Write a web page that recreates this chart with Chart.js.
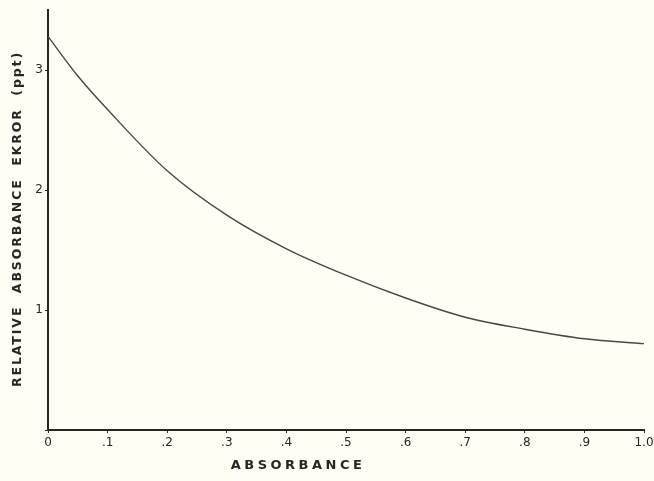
<!DOCTYPE html>
<html>
<head>
<meta charset="utf-8">
<script src="https://cdn.jsdelivr.net/npm/chart.js@4"></script>
<style>
  html, body { margin: 0; padding: 0; background: #fefef5; }
  #wrap { width: 654px; height: 481px; position: relative; }
</style>
</head>
<body>
<div id="wrap"><canvas id="errChart"></canvas></div>
<script>
// data
const absorbance = [0, 0.05, 0.1, 0.2, 0.3, 0.4, 0.5, 0.6, 0.7, 0.8, 0.9, 1.0];
const relError = [3.28, 2.95, 2.67, 2.16, 1.79, 1.51, 1.29, 1.10, 0.94, 0.84, 0.76, 0.72];
const xTickLabels = ['0', '.1', '.2', '.3', '.4', '.5', '.6', '.7', '.8', '.9', '1.0'];
const yTickLabels = ['', '1', '2', '3'];

const xTitle = 'ABSORBANCE';
const yTitle = 'RELATIVE  ABSORBANCE  EKROR  (ppt)';

const ink = '#2b2424';
const fontFam = "'DejaVu Sans', sans-serif";

// axis titles drawn by hand so the letter spacing matches the print
const titlePlugin = {
    id: 'axisTitles',
    afterDraw(chart) {
        const c = chart.ctx;
        const area = chart.chartArea;
        c.save();
        c.fillStyle = ink;
        c.textAlign = 'center';
        c.textBaseline = 'middle';
        c.font = '600 13px ' + fontFam;
        c.letterSpacing = '3.5px';
        c.fillText(xTitle, 298, 466);
        c.font = '600 12.5px ' + fontFam;
        c.letterSpacing = '1.9px';
        c.translate(18, 219);
        c.rotate(-Math.PI / 2);
        c.fillText(yTitle, 0, 0);
        c.restore();
    }
};

new Chart(document.getElementById('errChart'), {
    type: 'line',
    data: {
        datasets: [{
            data: absorbance.map((a, i) => ({ x: a, y: relError[i] })),
            borderColor: '#4a4646',
            borderWidth: 1.4,
            pointRadius: 0,
            cubicInterpolationMode: 'monotone',
            fill: false
        }]
    },
    options: {
        responsive: true,
        maintainAspectRatio: false,
        animation: false,
        layout: { padding: { top: 10, right: 10, left: 0, bottom: 0 } },
        plugins: {
            legend: { display: false },
            tooltip: { enabled: false }
        },
        scales: {
            x: {
                type: 'linear',
                min: 0,
                max: 1,
                afterFit: (s) => { s.height = 51; s.paddingLeft = 0; s.paddingRight = 0; },
                border: { color: ink, width: 2 },
                grid: { drawOnChartArea: false, color: ink, tickLength: 3 },
                ticks: {
                    stepSize: 0.1,
                    color: ink,
                    padding: 3,
                    font: { family: fontFam, size: 12 },
                    callback: (v, i) => xTickLabels[i]
                }
            },
            y: {
                min: 0,
                max: 3.5,
                afterFit: (s) => { s.width = 48; s.paddingTop = 0; s.paddingBottom = 0; },
                afterBuildTicks: (s) => { s.ticks = [0, 1, 2, 3].map(v => ({ value: v })); },
                border: { color: ink, width: 2 },
                grid: { drawOnChartArea: false, color: ink, tickLength: 3 },
                ticks: {
                    color: ink,
                    padding: 2,
                    font: { family: fontFam, size: 12 },
                    callback: (v) => yTickLabels[v]
                }
            }
        }
    },
    plugins: [titlePlugin]
});
</script>
</body>
</html>
